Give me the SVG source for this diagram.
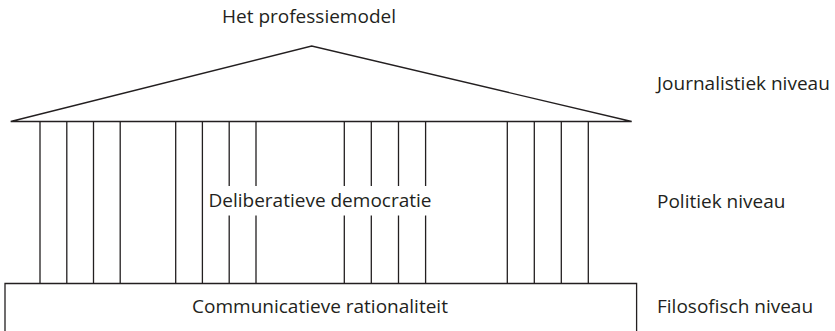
<svg xmlns="http://www.w3.org/2000/svg" width="835" height="331" viewBox="0 0 835 331">
<style>
.ln{fill:none;stroke:#231f20;stroke-width:1.3}
text{font-family:"Open Sans","Liberation Sans",sans-serif;font-size:19px;fill:#231f20}
.c{text-anchor:middle}
</style>
<rect width="835" height="331" fill="#fff"/>
<g id="roof">
<path class="ln" d="M10.7,121.5 L311.7,46 L631.7,121.5 Z"/>
<text class="c" x="309" y="23">Het professiemodel</text>
</g>
<g id="columns">
<path class="ln" d="M40,121.5V283.5 M66.8,121.5V283.5 M93.5,121.5V283.5 M120.2,121.5V283.5 M175.7,121.5V283.5 M202.4,121.5V283.5 M507.3,121.5V283.5 M534.3,121.5V283.5 M561.3,121.5V283.5 M588.3,121.5V283.5"/>
<path class="ln" d="M229.2,121.5V186 M229.2,215.5V283.5 M256,121.5V186 M256,215.5V283.5 M344.3,121.5V186 M344.3,215.5V283.5 M371.3,121.5V186 M371.3,215.5V283.5 M398.5,121.5V186 M398.5,215.5V283.5 M425.6,121.5V186 M425.6,215.5V283.5"/>
<text class="c" x="320" y="206.5">Deliberatieve democratie</text>
</g>
<g id="base">
<path class="ln" d="M5,333V283.5H636.6V333"/>
<text class="c" x="320" y="313">Communicatieve rationaliteit</text>
</g>
<g id="labels">
<text x="657" y="90">Journalistiek niveau</text>
<text x="657" y="208">Politiek niveau</text>
<text x="657" y="313">Filosofisch niveau</text>
</g>
</svg>
